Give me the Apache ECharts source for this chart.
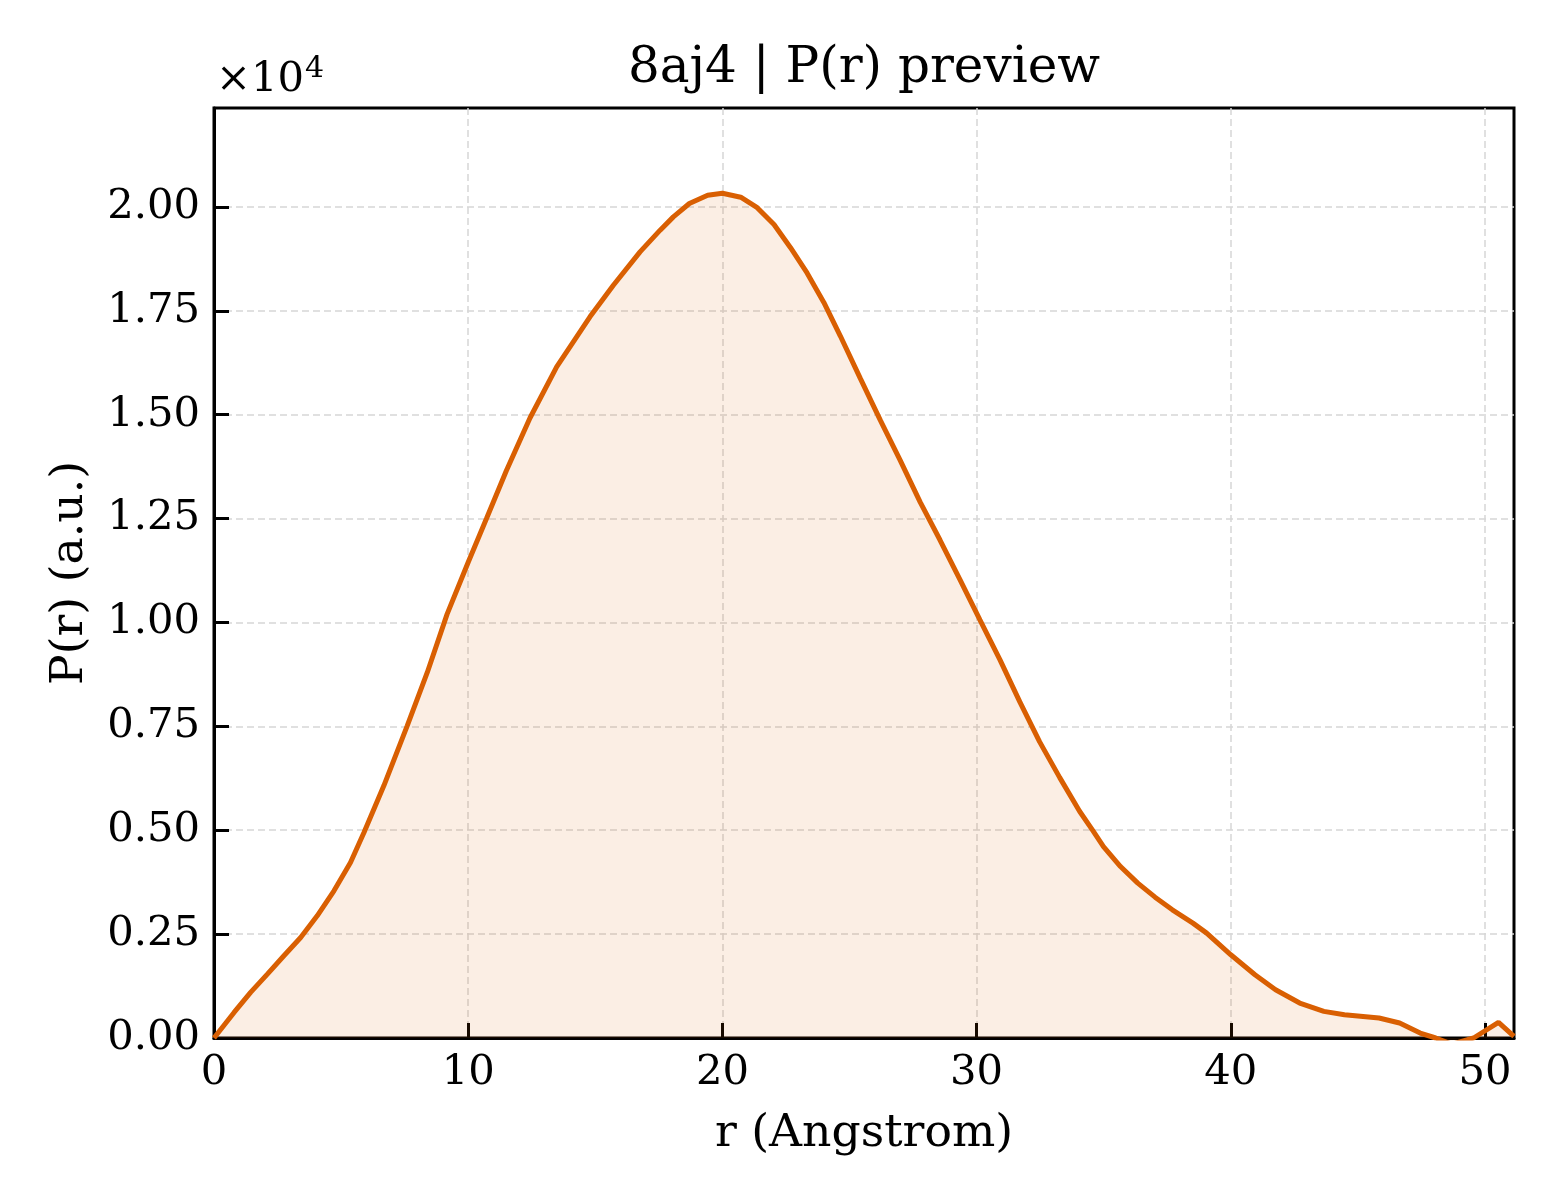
<!DOCTYPE html>
<html>
<head>
<meta charset="utf-8">
<script src="https://cdn.jsdelivr.net/npm/echarts@6/dist/echarts.min.js"></script>
<style>
  html, body { margin: 0; padding: 0; background: #fff; }
  #chart { width: 1560px; height: 1200px; }
</style>
</head>
<body>
<div id="chart"></div>
<script>
// P(r) curve
const rValues = [0, 0.79, 1.44, 2.10, 2.75, 3.41, 4.06, 4.72, 5.37, 5.9, 6.68, 7.6, 8.39, 9.17, 10.0,
  10.72, 11.5, 12.43, 13.48, 14.79, 15.71, 16.76, 17.55, 18.07, 18.7, 19.42, 20.0, 20.72, 21.37,
  22.03, 22.68, 23.33, 23.99, 24.64, 25.42, 26.21, 26.99, 27.78, 28.56, 29.35, 30.13, 30.92, 31.7,
  32.48, 33.27, 34.05, 34.58, 34.99, 35.66, 36.34, 37.02, 37.7, 38.51, 39.05, 40.0, 40.95, 41.76,
  42.71, 43.66, 44.47, 45.83, 46.64, 47.45, 48.06, 48.7, 49.55, 50.53, 51.14];
const prValues = [0, 615, 1097, 1538, 1979, 2420, 2941, 3543, 4224, 4946, 6069, 7513, 8797, 10200, 11450,
  12500, 13650, 14920, 16152, 17354, 18116, 18918, 19440, 19760, 20082, 20280, 20330, 20233, 19980,
  19575, 19018, 18411, 17702, 16892, 15880, 14868, 13907, 12895, 11984, 11022, 10061, 9100, 8088,
  7126, 6266, 5456, 4984, 4607, 4127, 3726, 3389, 3085, 2764, 2524, 2003, 1522, 1162,
  841, 641, 561, 481, 361, 120, 0, -150, 0, 377, 40];

const xMax = 51.14;
const yMax = 22380;

const chart = echarts.init(document.getElementById('chart'));
const font = 'DejaVu Serif';

const seriesData = rValues.map((r, i) => [r, prValues[i]]);

// width of the "×10" part so the exponent sits right after it
const ctx = document.createElement('canvas').getContext('2d');
ctx.font = '41.7px "DejaVu Serif"';
const multWidth = ctx.measureText('×10').width;

const gridLine = {
  show: true, showMinLine: false, showMaxLine: false,
  lineStyle: { color: '#d6d6d6', width: 1.5, type: [7, 4] }
};

const option = {
  backgroundColor: '#fff',
  animation: false,
  grid: {
    left: 214, top: 108, width: 1300, height: 930,
    show: true, borderColor: '#000', borderWidth: 3, backgroundColor: 'transparent'
  },
  graphic: [
    {
      type: 'text', x: 864, y: 69,
      style: {
        text: '8aj4 | P(r) preview', font: '50px "DejaVu Serif"', fill: '#000',
        textAlign: 'center', textVerticalAlign: 'middle'
      }
    },
    {
      type: 'text', x: 216, y: 80,
      style: {
        text: '×10', font: '41.7px "DejaVu Serif"', fill: '#000',
        textAlign: 'left', textVerticalAlign: 'middle'
      }
    },
    {
      type: 'text', x: 216 + multWidth + 1, y: 69,
      style: {
        text: '4', font: '30px "DejaVu Serif"', fill: '#000',
        textAlign: 'left', textVerticalAlign: 'middle'
      }
    }
  ],
  xAxis: {
    type: 'value', min: 0, max: xMax, interval: 10,
    name: 'r (Angstrom)', nameLocation: 'middle', nameGap: 73,
    nameTextStyle: { fontFamily: font, fontSize: 45.7, color: '#000' },
    axisLine: { lineStyle: { color: '#000', width: 3 } },
    axisTick: { inside: true, length: 15, lineStyle: { color: '#000', width: 3 } },
    axisLabel: {
      fontFamily: font, fontSize: 41.7, color: '#000', margin: 14,
      showMaxLabel: false
    },
    splitLine: gridLine
  },
  yAxis: {
    type: 'value', min: 0, max: yMax, interval: 2500,
    name: 'P(r) (a.u.)', nameLocation: 'middle', nameGap: 121,
    nameTextStyle: { fontFamily: font, fontSize: 45.7, color: '#000' },
    axisLine: { lineStyle: { color: '#000', width: 3 } },
    axisTick: { inside: true, length: 15, lineStyle: { color: '#000', width: 3 } },
    axisLabel: {
      fontFamily: font, fontSize: 41.7, color: '#000', margin: 14,
      showMaxLabel: false,
      formatter: v => (v / 10000).toFixed(2)
    },
    splitLine: gridLine
  },
  series: [
    {
      type: 'line',
      data: seriesData,
      showSymbol: false,
      smooth: false,
      clip: true,
      lineStyle: { color: '#d95f02', width: 5 },
      areaStyle: { color: 'rgba(217,95,2,0.15)', origin: 0 },
      z: 3
    }
  ]
};

chart.setOption(option);

window.addEventListener('resize', () => {
  chart.resize();
});
</script>
</body>
</html>
